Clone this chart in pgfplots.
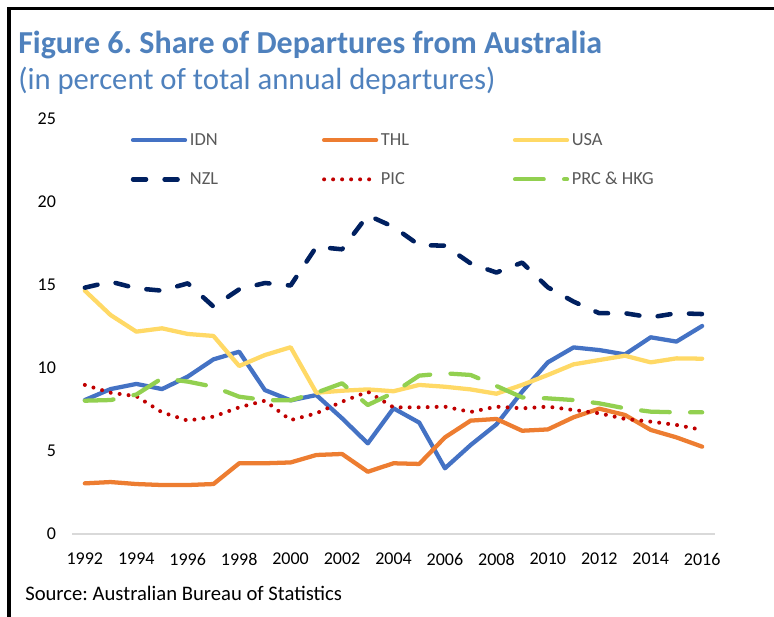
\documentclass[border=0pt]{standalone}
\usepackage{fontspec}
\setmainfont{Carlito}
\usepackage{pgfplots}
\usepackage{pgfplotstable}
\pgfplotsset{compat=1.18}
\definecolor{idn}{HTML}{4472C4}
\definecolor{thl}{HTML}{ED7D31}
\definecolor{usa}{HTML}{FFD966}
\definecolor{nzl}{HTML}{002060}
\definecolor{pic}{HTML}{C00000}
\definecolor{prc}{HTML}{92D050}
\definecolor{titleblue}{HTML}{4F81BD}
\definecolor{legtext}{HTML}{595959}

\pgfplotstableread{
year idn thl usa nzl pic prc
1992 8.07 3.05 14.66 14.84 8.98 8.03
1993 8.73 3.13 13.19 15.20 8.51 8.07
1994 9.04 3.01 12.19 14.80 8.30 8.40
1995 8.73 2.95 12.39 14.66 7.33 9.38
1996 9.48 2.95 12.05 15.10 6.83 9.18
1997 10.52 3.01 11.93 13.70 7.07 8.87
1998 10.98 4.26 10.12 14.74 7.63 8.27
1999 8.67 4.26 10.78 15.12 8.03 8.07
2000 8.05 4.31 11.25 14.97 6.86 8.05
2001 8.37 4.76 8.51 17.30 7.27 8.51
2002 6.97 4.82 8.63 17.15 7.97 9.08
2003 5.46 3.75 8.71 19.20 8.57 7.77
2004 7.57 4.26 8.60 18.50 7.63 8.51
2005 6.71 4.22 8.98 17.40 7.63 9.54
2006 3.96 5.82 8.87 17.37 7.67 9.68
2007 5.36 6.83 8.71 16.30 7.35 9.58
2008 6.60 6.93 8.45 15.75 7.67 8.92
2009 8.57 6.22 8.98 16.35 7.57 8.23
2010 10.34 6.30 9.58 14.86 7.67 8.17
2011 11.24 7.03 10.22 14.00 7.47 8.07
2012 11.08 7.55 10.48 13.30 7.27 7.87
2013 10.82 7.17 10.74 13.30 6.93 7.57
2014 11.85 6.27 10.34 13.05 6.77 7.37
2015 11.59 5.82 10.58 13.30 6.57 7.33
2016 12.53 5.26 10.56 13.25 6.27 7.33
}\datatable

\begin{document}
\frenchspacing
\begin{tikzpicture}
\path[use as bounding box] (0pt,0pt) rectangle (580.5pt,462.75pt);
\draw[line width=2.8pt] (6.85pt,0pt) -- (6.85pt,457.8pt);
\draw[line width=2.4pt] (5.45pt,456.6pt) -- (580.5pt,456.6pt);
\node[anchor=base west, text=titleblue, font=\bfseries\fontsize{24}{28}\selectfont, inner sep=0pt] at (13.5pt,422.6pt) {Figure 6. Share of Departures from Australia};
\node[anchor=base west, text=titleblue, font=\fontsize{23}{27}\selectfont, inner sep=0pt] at (13.5pt,395.25pt) {(in percent of total annual departures)};
\node[anchor=base west, font=\fontsize{15.5}{18}\selectfont, inner sep=0pt] at (18.75pt,12.5pt) {Source: Australian Bureau of Statistics};

\begin{axis}[
  at={(54pt,62.25pt)}, anchor=south west,
  scale only axis, width=482.25pt, height=311.25pt,
  xmin=1991.5, xmax=2016.5, ymin=0, ymax=25,
  axis x line*=bottom, axis y line*=left,
  x axis line style={draw=black!15, line width=1.1pt, -},
  y axis line style={draw=none},
  xtick={1992,1994,...,2016}, ytick={0,5,...,25},
  major tick length=0pt,
  /pgf/number format/assume math mode=true,
  /pgf/number format/1000 sep={},
  xticklabel style={font=\fontsize{13.5}{15}\selectfont, yshift=-10.75pt},
  yticklabel style={font=\fontsize{13.5}{15}\selectfont, xshift=-8.5pt},
  clip=false,
  every axis plot/.append style={line width=3.2pt, line cap=round, line join=round},
  legend columns=3,
  legend cell align=left,
  legend image code/.code={\draw[#1] (0pt,0pt) -- (39pt,0pt);},
  legend style={draw=none, fill=none, at={(0.091,0.973)}, anchor=north west,
    font=\fontsize{13.8}{15}\selectfont, text=legtext, inner sep=0pt, row sep=14.75pt},
]
\addplot[idn] table[x=year,y=idn] {\datatable};
\addlegendentry{\makebox[97pt][l]{IDN}}
\addplot[thl] table[x=year,y=thl] {\datatable};
\addlegendentry{\makebox[97pt][l]{THL}}
\addplot[usa] table[x=year,y=usa] {\datatable};
\addlegendentry{\makebox[97pt][l]{USA}}
\addplot[nzl, line width=3.4pt, dash pattern=on 9.75pt off 13.9pt] table[x=year,y=nzl] {\datatable};
\addlegendentry{\makebox[97pt][l]{NZL}}
\addplot[pic, line width=3pt, dash pattern=on 0pt off 6.75pt] table[x=year,y=pic] {\datatable};
\addlegendentry{\makebox[97pt][l]{PIC}}
\addplot[prc, dash pattern=on 21.5pt off 15.3pt] table[x=year,y=prc] {\datatable};
\addlegendentry{\makebox[97pt][l]{PRC \& HKG}}
\end{axis}
\end{tikzpicture}
\end{document}
